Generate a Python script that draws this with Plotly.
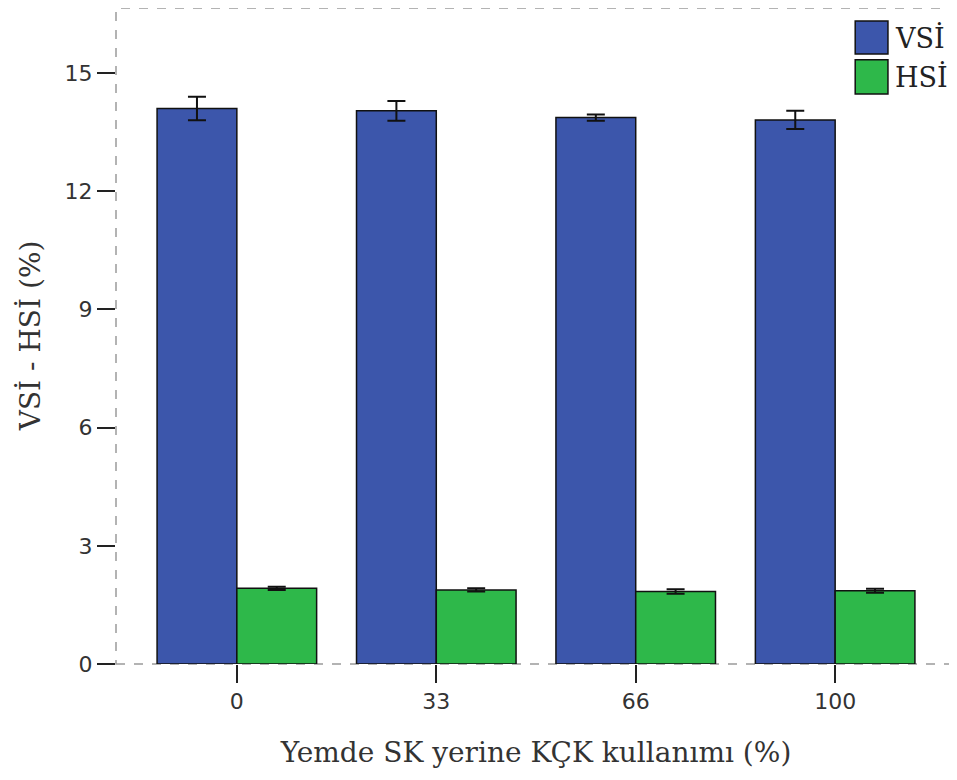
import plotly.graph_objects as go

categories = ["0", "33", "66", "100"]
vsi_values = [14.10, 14.04, 13.87, 13.81]
vsi_errors = [0.30, 0.25, 0.08, 0.23]
hsi_values = [1.92, 1.88, 1.84, 1.86]
hsi_errors = [0.04, 0.04, 0.06, 0.05]
y_ticks = [0, 3, 6, 9, 12, 15]
series_names = ["VSİ", "HSİ"]

BLUE = "#3C56AB"
GREEN = "#2EB84A"
SERIF = "DejaVu Serif"
TICKFONT = "DejaVu Sans"

fig = go.Figure()
fig.add_trace(go.Bar(
    x=categories, y=vsi_values, name=series_names[0],
    marker=dict(color=BLUE, line=dict(color="#111111", width=1.5)),
    error_y=dict(type="data", array=vsi_errors, color="#111111", thickness=2, width=9),
    showlegend=False,
))
fig.add_trace(go.Bar(
    x=categories, y=hsi_values, name=series_names[1],
    marker=dict(color=GREEN, line=dict(color="#111111", width=1.5)),
    error_y=dict(type="data", array=hsi_errors, color="#111111", thickness=2, width=9),
    showlegend=False,
))

# dashed frame around plot area
fig.add_shape(type="rect", xref="paper", yref="paper", x0=0, x1=1, y0=0, y1=1,
              line=dict(color="#9a9a9a", width=1.5, dash="dash"), layer="below")

# custom legend
legend_items = [(series_names[0], BLUE, 0.980, 0.930), (series_names[1], GREEN, 0.921, 0.869)]
for name, col, ytop, ybot in legend_items:
    fig.add_shape(type="rect", xref="paper", yref="paper", x0=0.880, x1=0.919, y0=ybot, y1=ytop,
                  fillcolor=col, line=dict(color="#111111", width=1.5))
    fig.add_annotation(xref="paper", yref="paper", x=0.925, y=(ytop + ybot) / 2,
                       text=name, showarrow=False, xanchor="left", yanchor="middle",
                       font=dict(family=SERIF, size=27, color="#222222"))

# y-axis title
fig.add_annotation(xref="paper", yref="paper", x=-0.102, y=0.5, text="VSİ - HSİ (%)",
                   textangle=-90, showarrow=False, xanchor="center", yanchor="middle",
                   font=dict(family=SERIF, size=28, color="#333333"))

fig.update_layout(
    width=949, height=772,
    margin=dict(l=108, r=1, t=0, b=116),
    paper_bgcolor="white", plot_bgcolor="white",
    barmode="group", bargap=0.2, bargroupgap=0,
    font=dict(family=SERIF, color="#222222"),
)
fig.update_xaxes(
    type="category", range=[-0.606, 3.606],
    showgrid=False, zeroline=False, showline=False,
    ticks="outside", ticklen=18, tickwidth=2, tickcolor="#222222",
    tickfont=dict(family=TICKFONT, size=22, color="#333333"),
    title=dict(text="Yemde SK yerine KÇK kullanımı (%)", font=dict(family=SERIF, size=28, color="#333333"), standoff=28),
)
fig.update_yaxes(
    range=[0, 16.65], tickvals=y_ticks, ticktext=[str(v) for v in y_ticks],
    showgrid=False, zeroline=False, showline=False,
    ticks="outside", ticklen=18, tickwidth=2, tickcolor="#222222",
    tickfont=dict(family=TICKFONT, size=22, color="#333333"),
)

fig.write_html("out.html")
